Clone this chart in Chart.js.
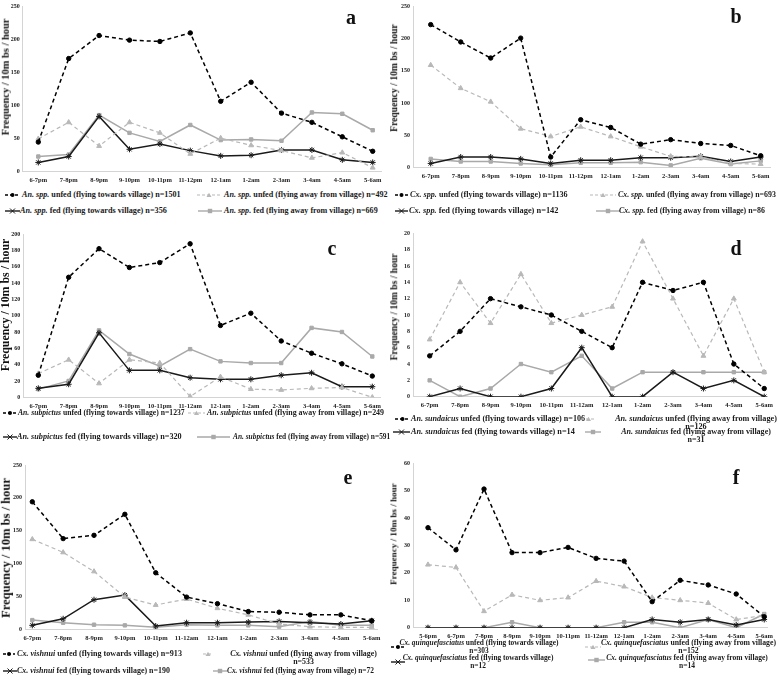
<!DOCTYPE html>
<html>
<head>
<meta charset="utf-8">
<script src="https://cdn.jsdelivr.net/npm/chart.js@4.4.0/dist/chart.umd.min.js"></script>
<style>
  body { margin: 0; background: #fff; }
  #page { position: relative; width: 778px; height: 682px; overflow: hidden; background: #fff;
          font-family: "Liberation Serif", "Times New Roman", serif; font-weight: bold; color: #1a1a1a; }
  canvas { position: absolute; }
  .letter { position: absolute; font-size: 20px; line-height: 20px; transform: translateX(-50%); color: #111; }
  .lg { position: absolute; font-size: 8px; line-height: 7.5px; white-space: nowrap; }
  .lg.wrap { text-align: center; }
  .smp { position: absolute; line-height: 0; font-size: 0; }
  .smp svg { display: block; }
  .ytitle { position: absolute; white-space: nowrap; font-size: 10px; line-height: 1; color: #111;
            transform: translate(-50%, -50%) rotate(-90deg); }
</style>
</head>
<body>
<div id="page"></div>
<script>
// time bins on the x axis
const hours = ['6-7pm', '7-8pm', '8-9pm', '9-10pm', '10-11pm', '11-12pm', '12-1am', '1-2am', '2-3am', '3-4am', '4-5am', '5-6am'];
const hoursAm = ['6-7pm', '7-8pm', '8-9pm', '9-10pm', '10-11pm', '11-12am', '12-1am', '1-2am', '2-3am', '3-4am', '4-5am', '5-6am'];
const hoursF = ['5-6pm', '6-7pm', '7-8pm', '8-9pm', '9-10pm', '10-11pm', '11-12am', '12-1am', '1-2am', '2-3am', '3-4am', '4-5am', '5-6am'];

const yTitle = 'Frequency / 10m bs / hour';
const yMaxes = [250, 250, 200, 20, 250, 60];
const ySteps = [50, 50, 20, 2, 50, 10];

const species = ['An. spp.', 'Cx. spp.', 'An. subpictus', 'An. sundaicus', 'Cx. vishnui', 'Cx. quinquefasciatus'];
const groups = ['unfed (flying towards village)', 'unfed (flying away from village)', 'fed (flying towards village)', 'fed (flying away from village)'];

// a - An. spp.
const aUnfedTowards = [44, 171, 206, 199, 197, 210, 106, 135, 88, 74, 52, 30];
const aUnfedAway    = [49, 74, 38, 74, 58, 26, 50, 39, 31, 20, 28, 5];
const aFedTowards   = [13, 22, 83, 33, 41, 31, 23, 24, 32, 32, 17, 13];
const aFedAway      = [22, 25, 85, 58, 45, 70, 47, 48, 46, 89, 87, 62];
const aN = [1501, 492, 356, 669];

// b - Cx. spp.
const bUnfedTowards = [222, 195, 170, 201, 16, 74, 62, 36, 43, 37, 34, 18];
const bUnfedAway    = [159, 123, 102, 60, 48, 63, 48, 32, 17, 16, 6, 5];
const bFedTowards   = [6, 16, 16, 13, 6, 11, 11, 15, 15, 17, 9, 16];
const bFedAway      = [13, 9, 9, 6, 4, 7, 7, 8, 3, 14, 5, 10];
const bN = [1136, 693, 142, 86];

// c - An. subpictus
const cUnfedTowards = [27, 147, 182, 159, 165, 188, 88, 103, 69, 54, 41, 26];
const cUnfedAway    = [29, 46, 17, 46, 42, 1, 25, 10, 9, 11, 12, 0];
const cFedTowards   = [11, 16, 79, 33, 33, 24, 22, 22, 27, 30, 13, 13];
const cFedAway      = [10, 20, 82, 53, 38, 59, 44, 42, 42, 85, 80, 50];
const cN = [1237, 249, 320, 591];

// d - An. sundaicus
const dUnfedTowards = [5, 8, 12, 11, 10, 8, 6, 14, 13, 14, 4, 1];
const dUnfedAway    = [7, 14, 9, 15, 9, 10, 11, 19, 12, 5, 12, 3];
const dFedTowards   = [0, 1, 0, 0, 1, 6, 0, 0, 3, 1, 2, 0];
const dFedAway      = [2, 0, 1, 4, 3, 5, 1, 3, 3, 3, 3, 3];
const dN = [106, 126, 14, 31];

// e - Cx. vishnui
const eUnfedTowards = [194, 138, 143, 175, 86, 49, 39, 27, 26, 22, 22, 13];
const eUnfedAway    = [137, 117, 88, 49, 37, 46, 32, 22, 8, 4, 3, 3];
const eFedTowards   = [6, 16, 45, 52, 5, 10, 10, 11, 12, 10, 8, 13];
const eFedAway      = [14, 10, 7, 6, 3, 7, 6, 6, 4, 12, 6, 6];
const eN = [913, 533, 190, 72];

// f - Cx. quinquefasciatus
const fUnfedTowards = [36.5, 28.4, 50.6, 27.4, 27.4, 29.3, 25.3, 24.3, 9.5, 17.3, 15.6, 12.3, 4];
const fUnfedAway    = [23, 22, 6, 12, 10, 11, 17, 15, 11, 10, 9, 3, 4.5];
const fFedTowards   = [0, 0, 0, 0, 0, 0, 0, 0, 3, 2, 3, 1, 3];
const fFedAway      = [0, 0, 0, 2, 0, 0, 0, 2, 2, 0, 3, 0, 5];
const fN = [303, 152, 12, 14];

const FONT = '"Liberation Serif", "Times New Roman", serif';

// line look for the 4 groups
const styles = [
    { borderColor: '#000', borderWidth: 1.5, borderDash: [4, 3], pointStyle: 'circle', pointRadius: 2.2,
      pointBackgroundColor: '#000', pointBorderColor: '#000', pointBorderWidth: 1 },
    { borderColor: '#b8b8b8', borderWidth: 1.2, borderDash: [4, 3], pointStyle: 'triangle', pointRadius: 2.8,
      pointBackgroundColor: '#b8b8b8', pointBorderColor: '#b8b8b8', pointBorderWidth: 1 },
    { borderColor: '#1a1a1a', borderWidth: 1.5, pointStyle: 'star', pointRadius: 3,
      pointBackgroundColor: '#1a1a1a', pointBorderColor: '#1a1a1a', pointBorderWidth: 1 },
    { borderColor: '#a9a9a9', borderWidth: 1.5, pointStyle: 'rect', pointRadius: 2.4,
      pointBackgroundColor: '#a9a9a9', pointBorderColor: '#a9a9a9', pointBorderWidth: 1 }
];

// page layout: canvas box, plot area (page px), first/last point x, y title centre + length, letter spot
// legend rows: sample x, y, width, text x, y, width of the first text line, wrapped
const panels = [
    { letter: 'a', labels: hours, series: [aUnfedTowards, aUnfedAway, aFedTowards, aFedAway], n: aN,
      canvas: [0, 0, 389, 190], area: [22.7, 5, 381.7, 171], first: 38.3, last: 372.7,
      title: [6, 76.7, 117], spot: [351, 23],
      legend: [[5, 195, 15, 22, 195, 159, 0], [197, 195, 24, 224, 195, 164, 0],
               [5, 211, 15, 20, 211, 147, 0], [198, 211, 24, 224, 211, 154, 0]] },
    { letter: 'b', labels: hours, series: [bUnfedTowards, bUnfedAway, bFedTowards, bFedAway], n: bN,
      canvas: [388, 0, 390, 190], area: [413, 4.7, 770, 167.3], first: 430.7, last: 760.7,
      title: [393.5, 77.5, 108], spot: [736, 22],
      legend: [[395, 195, 13, 410, 195, 158, 0], [590, 195, 26, 618, 195, 158, 0],
               [395, 211, 13, 409, 211, 151, 0], [596, 211, 24, 619, 211, 146, 0]] },
    { letter: 'c', labels: hoursAm, series: [cUnfedTowards, cUnfedAway, cFedTowards, cFedAway], n: cN,
      canvas: [0, 226, 389, 186], area: [23.3, 234, 380, 397.3], first: 38.3, last: 372.3,
      title: [6, 305, 133], spot: [332, 254],
      legend: [[3, 413, 14, 18, 413, 167, 0], [188, 413, 17, 207, 413, 177, 0],
               [3, 437, 14, 17, 437, 165, 0], [197, 437, 33, 233, 437, 147, 0]] },
    { letter: 'd', labels: hoursAm, series: [dUnfedTowards, dUnfedAway, dFedTowards, dFedAway], n: dN,
      canvas: [388, 226, 390, 186], area: [413, 233.3, 768, 396.7], first: 429.7, last: 764.7,
      title: [393.5, 306.7, 107], spot: [736, 254],
      legend: [[395, 419, 15, 411, 419, 174, 0], [581, 419, 15, 615, 419, 162, 1],
               [393, 432, 17, 411, 432, 164, 0], [585, 432, 16, 621, 432, 150, 1]] },
    { letter: 'e', labels: hoursAm, series: [eUnfedTowards, eUnfedAway, eFedTowards, eFedAway], n: eN,
      canvas: [0, 455, 389, 190], area: [25, 465, 377, 629.3], first: 32.3, last: 371.7,
      title: [6, 548.3, 140], spot: [348, 483],
      legend: [[3, 654, 12, 17, 654, 165, 0], [203, 654, 10, 230, 654, 147, 1],
               [3, 671, 14, 17, 671, 153, 0], [213, 671, 14, 227, 671, 146, 0]] },
    { letter: 'f', labels: hoursF, series: [fUnfedTowards, fUnfedAway, fFedTowards, fFedAway], n: fN,
      canvas: [388, 455, 390, 190], area: [413, 463.3, 768, 627.7], first: 428, last: 764.7,
      title: [393.5, 534, 102], spot: [736, 483],
      legend: [[391, 647, 14, 410, 643, 138, 1], [585, 647, 16, 601, 643, 175, 1],
               [391, 662, 14, 416, 658, 124, 1], [588, 660, 17, 606, 658, 162, 1]] }
];

const page = document.getElementById('page');

function sampleSvg(k, w) {
    const c = w / 2;
    let s = '';
    if (k === 0) {
        s = `<line x1="0" y1="4" x2="${w}" y2="4" stroke="#000" stroke-width="1.5" stroke-dasharray="3,2"/>` +
            `<circle cx="${c}" cy="4" r="2" fill="#000"/>`;
    } else if (k === 1) {
        s = `<line x1="0" y1="4" x2="${w}" y2="4" stroke="#b8b8b8" stroke-width="1.2" stroke-dasharray="3,2"/>` +
            `<polygon points="${c - 2.5},6 ${c + 2.5},6 ${c},1.8" fill="#b8b8b8"/>`;
    } else if (k === 2) {
        s = `<line x1="0" y1="4" x2="${w}" y2="4" stroke="#1a1a1a" stroke-width="1.4"/>` +
            `<path d="M${c - 2.5} 1.5 L${c + 2.5} 6.5 M${c + 2.5} 1.5 L${c - 2.5} 6.5" stroke="#1a1a1a" stroke-width="1"/>`;
    } else {
        s = `<line x1="0" y1="4" x2="${w}" y2="4" stroke="#a9a9a9" stroke-width="1.4"/>` +
            `<rect x="${c - 2.2}" y="1.8" width="4.4" height="4.4" fill="#a9a9a9"/>`;
    }
    return `<svg width="${w}" height="8" viewBox="0 0 ${w} 8">${s}</svg>`;
}

function addTexts(p, idx) {
    p.legend.forEach((item, k) => {
        const [sx, sy, sw, tx, ty, tw, wrap] = item;
        const smp = document.createElement('div');
        smp.className = 'smp';
        smp.style.left = sx + 'px';
        smp.style.top = (sy - 4) + 'px';
        smp.innerHTML = sampleSvg(k, sw);
        page.appendChild(smp);

        const txt = document.createElement('div');
        txt.className = 'lg';
        txt.style.top = (ty - 3.75) + 'px';
        const label = `<i>${species[idx]}</i> ${groups[k]}`;
        if (wrap) {
            txt.classList.add('wrap');
            txt.innerHTML = `<span>${label}</span><br>n=${p.n[k]}`;
        } else {
            txt.innerHTML = `<span>${label} n=${p.n[k]}</span>`;
        }
        page.appendChild(txt);
        // size the text near the figure's width, within a sane range
        const span = txt.querySelector('span');
        let fs = 8 * tw / span.getBoundingClientRect().width;
        fs = Math.min(8.4, Math.max(7.4, fs));
        txt.style.fontSize = fs.toFixed(2) + 'px';
        const w = span.getBoundingClientRect().width;
        if (wrap) {
            txt.style.width = w + 'px';
            txt.style.left = (tx + tw / 2 - w / 2) + 'px';
        } else {
            txt.style.left = tx + 'px';
        }
    });

    // rotated y axis title
    const [tx, ty, len] = p.title;
    const yt = document.createElement('div');
    yt.className = 'ytitle';
    yt.textContent = yTitle;
    page.appendChild(yt);
    const w = yt.offsetWidth;
    yt.style.fontSize = (10 * len / w).toFixed(2) + 'px';
    yt.style.left = tx + 'px';
    yt.style.top = ty + 'px';

    const let_ = document.createElement('div');
    let_.className = 'letter';
    let_.style.left = p.spot[0] + 'px';
    let_.style.top = (p.spot[1] - 16) + 'px';
    let_.textContent = p.letter;
    page.appendChild(let_);
}

function makeChart(p, idx) {
    const [cx, cy, cw, ch] = p.canvas;
    const [L, T, R, B] = p.area;
    const cv = document.createElement('canvas');
    cv.width = cw;
    cv.height = ch;
    cv.style.left = cx + 'px';
    cv.style.top = cy + 'px';
    page.appendChild(cv);

    const n = p.labels.length;
    const step = (p.last - p.first) / (n - 1);
    const xMin = -(p.first - L) / step;
    const xMax = (n - 1) + (R - p.last) / step;

    new Chart(cv, {
        type: 'line',
        data: {
            datasets: p.series.map((vals, k) => Object.assign({
                label: groups[k],
                data: vals.map((v, i) => ({ x: i, y: v })),
                fill: false,
                tension: 0
            }, styles[k]))
        },
        options: {
            responsive: false,
            animation: false,
            layout: { padding: { left: 0, top: T - cy, right: cx + cw - R, bottom: 0 } },
            plugins: { legend: { display: false }, tooltip: { enabled: false } },
            scales: {
                x: {
                    type: 'linear',
                    bounds: 'data',
                    min: xMin,
                    max: xMax,
                    grid: { display: false, drawTicks: false },
                    border: { color: '#d4d4d4', width: 1 },
                    afterBuildTicks: (s) => { s.ticks = p.labels.map((_, i) => ({ value: i })); },
                    afterFit: (s) => { s.height = cy + ch - B; },
                    ticks: {
                        callback: (v) => p.labels[v],
                        maxRotation: 0,
                        autoSkip: false,
                        padding: 5,
                        color: '#222',
                        font: { family: FONT, size: 6.5, weight: 'bold' }
                    }
                },
                y: {
                    min: 0,
                    max: yMaxes[idx],
                    grid: { display: false, drawTicks: false },
                    border: { color: '#d4d4d4', width: 1 },
                    afterFit: (s) => { s.width = L - cx; },
                    ticks: {
                        stepSize: ySteps[idx],
                        padding: 3,
                        color: '#222',
                        font: { family: FONT, size: 6, weight: 'bold' }
                    }
                }
            }
        }
    });
}

panels.forEach((p, i) => {
    makeChart(p, i);
    addTexts(p, i);
});
</script>
</body>
</html>
